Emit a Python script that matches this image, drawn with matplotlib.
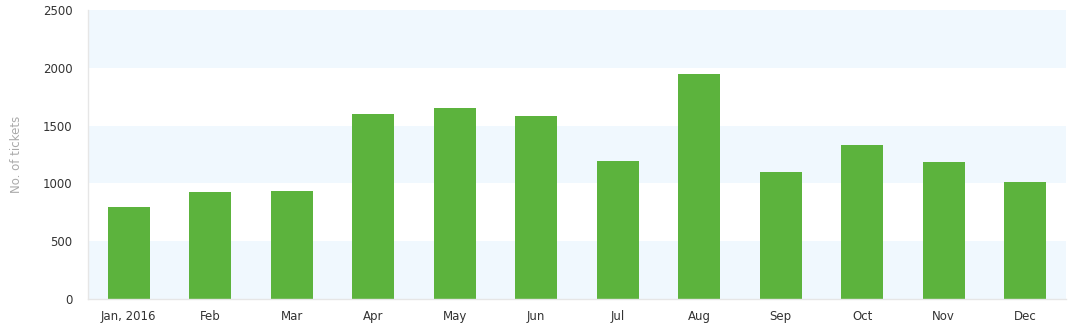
import matplotlib.pyplot as plt
import numpy as np

months = ['Jan, 2016', 'Feb', 'Mar', 'Apr', 'May', 'Jun',
          'Jul', 'Aug', 'Sep', 'Oct', 'Nov', 'Dec']
tickets = [798, 927, 936, 1603, 1655, 1586, 1196, 1950, 1100, 1334, 1187, 1014]
yticks = [0, 500, 1000, 1500, 2000, 2500]

fig = plt.figure(figsize=(10.72, 3.34), dpi=100)
ax = fig.add_axes([0.0821, 0.1048, 0.9123, 0.8652])

# alternating background bands
for lo, hi in zip(yticks[:-1], yticks[1:]):
    if (lo // 500) % 2 == 0:
        ax.axhspan(lo, hi, color='#f0f8fe', zorder=0, lw=0)

x = np.arange(len(months))
ax.bar(x, tickets, width=0.52, color='#5cb33d', zorder=2)

ax.set_xlim(-0.5, len(months) - 0.5)
ax.set_ylim(0, 2500)
ax.set_yticks(yticks)
ax.set_xticks(x)
ax.set_xticklabels(months)
ax.tick_params(axis='both', length=0, labelsize=8.5, colors='#333333')
ax.tick_params(axis='y', pad=11)
ax.tick_params(axis='x', pad=8)

for s in ['top', 'right']:
    ax.spines[s].set_visible(False)
for s in ['left', 'bottom']:
    ax.spines[s].set_color('#e6e6e6')
    ax.spines[s].set_linewidth(1)

ax.set_ylabel('No. of tickets', color='#aaaaaa', fontsize=8.5)
ax.yaxis.set_label_coords(-0.066, 0.5)

plt.savefig('out.png', dpi=100)
